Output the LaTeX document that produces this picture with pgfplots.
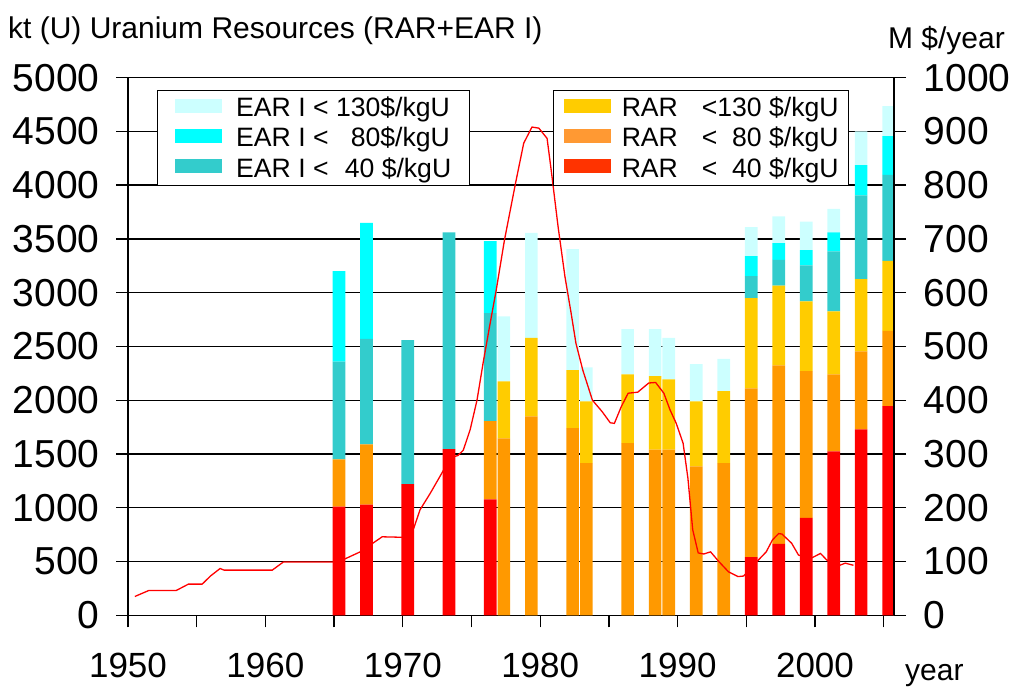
\documentclass[border=0pt]{standalone}
\usepackage{pgfplots}
\pgfplotsset{compat=1.18}
\usepackage{pgfplotstable}
\usepackage{fontspec}
\setmainfont{Liberation Sans}

\definecolor{rar40}{HTML}{FF0000}
\definecolor{rar80}{HTML}{FF9900}
\definecolor{rar130}{HTML}{FFCC00}
\definecolor{ear40}{HTML}{33CCCC}
\definecolor{ear80}{HTML}{00FFFF}
\definecolor{ear130}{HTML}{CCFFFF}
\definecolor{rar40L}{HTML}{FF3300}
\definecolor{rar80L}{HTML}{FF9933}

\pgfplotstableread{
year r40 r80 r130 e40 e80 e130
1965 1010 440 0 910 840 0
1967 1030 560 0 980 1080 0
1970 1220 0 0 1338 0 0
1973 1545 0 0 2015 0 0
1976 1078 727 0 1005 670 0
1977 0 1645 530 0 0 605
1979 0 1850 730 0 0 975
1982 0 1740 540 0 0 1125
1983 0 1415 575 0 0 315
1986 0 1600 640 0 0 420
1988 0 1540 685 0 0 435
1989 0 1540 655 0 0 385
1991 0 1385 605 0 0 345
1993 0 1415 670 0 0 300
1995 540 1570 840 205 185 270
1997 665 1660 740 240 155 250
1999 905 1365 650 335 140 265
2001 1525 715 585 560 175 220
2003 1730 725 670 780 280 315
2005 1945 700 650 800 360 280
}\bars

\pgfplotsset{
  patch/.style={legend image code/.code={\fill[##1, draw=none] (0pt,-5pt) rectangle (47pt,8.7pt);}},
  common/.style={
    at={(128pt,73.7pt)}, anchor=south west, scale only axis,
    width=766pt, height=537.7pt,
    xmin=1950, xmax=2005.75,
    enlargelimits=false,
    tick align=outside,
    major tick length=12pt, minor tick length=12pt,
    every tick/.style={black, line width=1.3pt},
    every minor tick/.style={black, line width=1.3pt},
    axis line style={black, line width=1.5pt},
    scaled y ticks=false,
    /pgf/number format/1000 sep={},
    /pgf/number format/assume math mode=true,
    legend cell align=left,
  },
}

\begin{document}
\begin{tikzpicture}
\path[use as bounding box] (0pt,0pt) rectangle (1013pt,689pt);
\begin{axis}[
  common,
  ymin=0, ymax=5000,
  axis lines*=left,
  ybar stacked, bar width=0.92, bar shift=0.36,
  ytick={0,500,...,5000},
  xtick={1950,1960,...,2000},
  xticklabels={1950,1960,1970,1980,1990,2000},
  minor xtick={1955,1965,...,2005},
  ymajorgrids, grid style={black, line width=1.3pt},
  yticklabel style={font=\fontsize{39}{40}\selectfont, inner sep=0pt, anchor=east, xshift=-16.4pt},
  xticklabel style={font=\fontsize{35}{36}\selectfont, inner sep=0pt, anchor=north, yshift=-25.7pt},
  legend style={at={(axis description cs:0.0375,0.977)}, anchor=north west,
    draw=black, line width=1pt, fill=white, font=\fontsize{26.6}{30}\selectfont,
    inner xsep=18pt, inner ysep=6.5pt, row sep=9pt, nodes={inner sep=0pt},
    /tikz/every odd column/.append style={column sep=14pt}},
]
\addplot[fill=rar40, draw=none, forget plot] table[x=year, y=r40] {\bars};
\addplot[fill=rar80, draw=none, forget plot] table[x=year, y=r80] {\bars};
\addplot[fill=rar130, draw=none, forget plot] table[x=year, y=r130] {\bars};
\addplot[fill=ear40, draw=none, forget plot] table[x=year, y=e40] {\bars};
\addplot[fill=ear80, draw=none, forget plot] table[x=year, y=e80] {\bars};
\addplot[fill=ear130, draw=none, forget plot] table[x=year, y=e130] {\bars};
\addlegendimage{patch, fill=ear130}
\addlegendentry{EAR I < 130\$/kgU}
\addlegendimage{patch, fill=ear80}
\addlegendentry{EAR I < \phantom{1}80\$/kgU}
\addlegendimage{patch, fill=ear40}
\addlegendentry{EAR I < \hspace{0.33em}40 \$/kgU}
\end{axis}

\begin{axis}[
  common,
  ymin=0, ymax=1000,
  axis y line*=right, axis x line=none,
  ytick={0,100,...,1000},
  yticklabel style={font=\fontsize{39}{40}\selectfont, inner sep=0pt, anchor=west, xshift=17.7pt},
  legend style={at={(axis description cs:0.5552,0.977)}, anchor=north west,
    draw=black, line width=1pt, fill=white, font=\fontsize{26.6}{30}\selectfont,
    inner xsep=10pt, inner ysep=6.5pt, row sep=9pt, nodes={inner sep=0pt},
    /tikz/every odd column/.append style={column sep=11pt}},
]
\addplot[color=red, line width=1.3pt, forget plot] coordinates {
(1950.5,35) (1951.5,46) (1953.5,46) (1954.4,58) (1955.4,58) (1956.0,73)
(1956.7,87) (1957.0,84) (1960.5,84) (1961.3,99) (1964.9,99) (1965.8,105)
(1966.9,118) (1968.5,146) (1970.1,145) (1970.8,162) (1971.25,196)
(1972.0,227) (1972.9,267) (1973.4,293) (1974.0,297) (1974.4,307)
(1974.9,345) (1975.4,400) (1975.85,470) (1976.3,535) (1976.8,605)
(1977.4,698) (1978.2,803) (1978.8,878) (1979.4,908) (1979.9,906)
(1980.5,887) (1980.8,828) (1981.3,723) (1981.8,630) (1982.25,562)
(1982.6,506) (1983.1,456) (1983.8,400) (1984.5,379) (1985.1,358)
(1985.4,357) (1985.9,388) (1986.4,413) (1987.1,415) (1987.9,432)
(1988.4,433) (1989.0,413) (1989.45,382) (1989.9,357) (1990.4,320)
(1990.75,255) (1991.1,159) (1991.5,116) (1991.9,114) (1992.4,118)
(1993.0,100) (1993.7,81) (1994.4,72) (1994.8,73) (1995.7,98)
(1996.45,118) (1996.9,140) (1997.35,152) (1997.6,151) (1998.3,134)
(1998.8,112) (1999.7,106) (2000.4,115) (2000.85,103) (2001.7,92)
(2002.2,97) (2002.8,93)
};
\addlegendimage{patch, fill=rar130}
\addlegendentry{RAR\hspace{0.9em}<130 \$/kgU}
\addlegendimage{patch, fill=rar80L}
\addlegendentry{RAR\hspace{0.9em}<\phantom{1}80 \$/kgU}
\addlegendimage{patch, fill=rar40L}
\addlegendentry{RAR\hspace{0.9em}<\phantom{1}40 \$/kgU}
\end{axis}

\node[anchor=base west, font=\fontsize{30}{32}\selectfont, inner sep=0pt] at (8pt,650pt) {kt (U) Uranium Resources (RAR+EAR I)};
\node[anchor=base east, font=\fontsize{30}{32}\selectfont, inner sep=0pt] at (1005pt,640.5pt) {M \$/year};
\node[anchor=base west, font=\fontsize{30}{32}\selectfont, inner sep=0pt] at (905pt,9pt) {year};
\end{tikzpicture}
\end{document}
